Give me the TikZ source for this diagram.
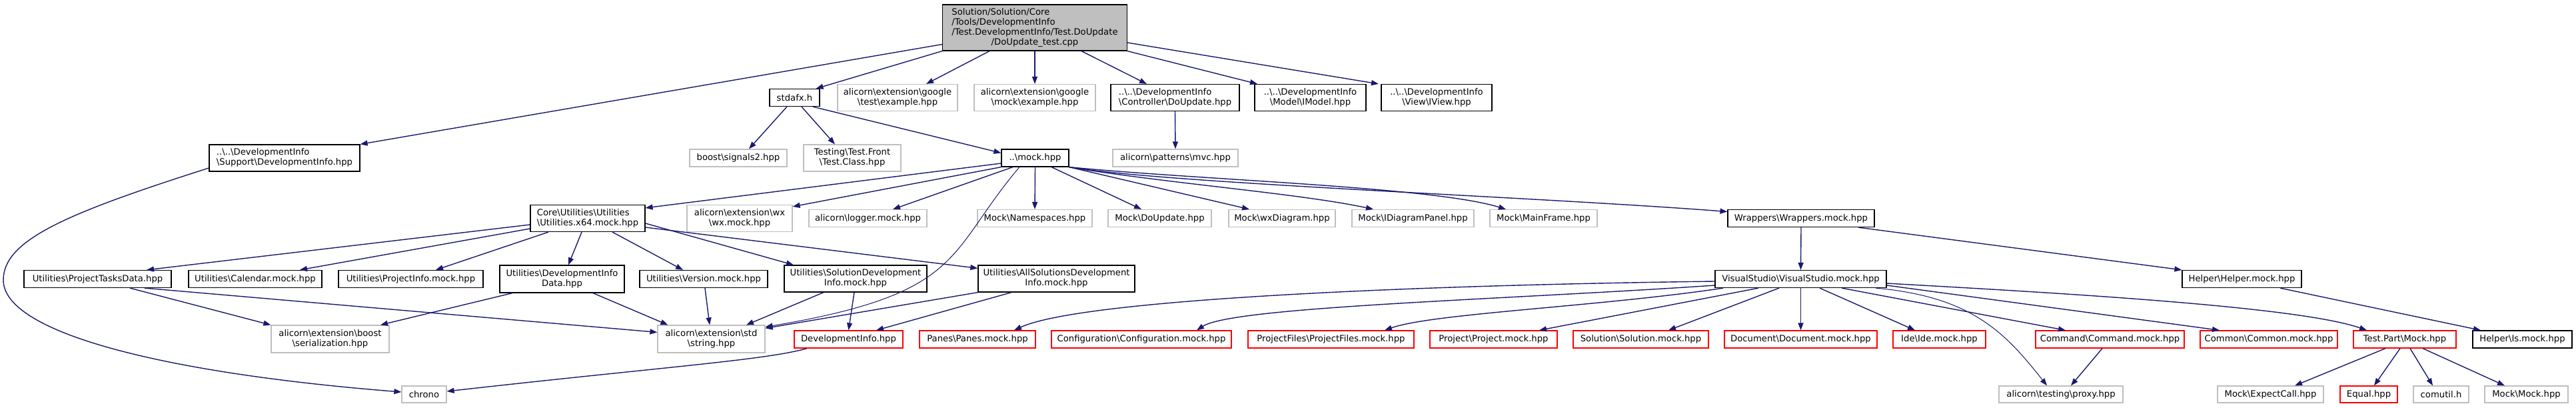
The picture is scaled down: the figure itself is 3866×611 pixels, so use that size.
\documentclass[tikz,border=0pt]{standalone}
\usepackage{fontspec}
\setmainfont{DejaVu Sans}
\usetikzlibrary{arrows.meta}
\definecolor{eblue}{HTML}{191970}
\definecolor{lgray}{HTML}{BFBFBF}
\newcommand\bs{\textbackslash}
\newcommand\lc[2]{\begin{tabular}{@{}l@{}}#1\\\multicolumn{1}{@{}c@{}}{#2}\end{tabular}}
\begin{document}
\begin{tikzpicture}[x=1pt,y=-1pt,
  nd/.style={draw,line width=1.2pt,inner sep=0pt,font=\fontsize{13.2}{15}\selectfont,anchor=center,fill=white},
  bk/.style={nd,draw=black},
  gr/.style={nd,draw=lgray},
  rd/.style={nd,draw=red},
  one/.style={minimum height=26pt},
  two/.style={minimum height=40pt},
  edg/.style={draw=eblue,line width=1.4pt,-{Triangle[length=11pt,width=8pt]}}]
\useasboundingbox (0,0) rectangle (3866,611);
% row 0
\node[bk,fill=lgray,minimum width=277pt,minimum height=69pt] (root) at (1553,41.5) {\begin{tabular}{@{}l@{}}Solution/Solution/Core\\/Tools/DevelopmentInfo\\/Test.DevelopmentInfo/Test.DoUpdate\\\multicolumn{1}{@{}c@{}}{/DoUpdate\_test.cpp}\end{tabular}};
% row 1
\node[bk,two,minimum width=226pt] (supp) at (427,237) {\lc{..\bs..\bs{}DevelopmentInfo}{\bs{}Support\bs{}DevelopmentInfo.hpp}};
\node[bk,one,minimum width=75pt] (stdafx) at (1192.5,146.5) {stdafx.h};
\node[gr,two,minimum width=180pt] (gtest) at (1347,146.5) {\lc{alicorn\bs{}extension\bs{}google}{\bs{}test\bs{}example.hpp}};
\node[gr,two,minimum width=182pt] (gmock) at (1553,146.5) {\lc{alicorn\bs{}extension\bs{}google}{\bs{}mock\bs{}example.hpp}};
\node[bk,two,minimum width=193pt] (doupc) at (1763.5,146.5) {\lc{..\bs..\bs{}DevelopmentInfo}{\bs{}Controller\bs{}DoUpdate.hpp}};
\node[bk,two,minimum width=167pt] (imodel) at (1966.5,146.5) {\lc{..\bs..\bs{}DevelopmentInfo}{\bs{}Model\bs{}IModel.hpp}};
\node[bk,two,minimum width=166pt] (iview) at (2156,146.5) {\lc{..\bs..\bs{}DevelopmentInfo}{\bs{}View\bs{}IView.hpp}};
% row 2
\node[gr,one,minimum width=146pt] (sig) at (1108,237) {boost\bs{}signals2.hpp};
\node[gr,two,minimum width=146pt] (tfront) at (1279,237) {\lc{Testing\bs{}Test.Front}{\bs{}Test.Class.hpp}};
\node[bk,one,minimum width=101pt] (mock) at (1553.5,237) {..\bs{}mock.hpp};
\node[gr,one,minimum width=188pt] (mvc) at (1764,237) {alicorn\bs{}patterns\bs{}mvc.hpp};
% row 3
\node[bk,two,minimum width=172pt] (core) at (882,327.5) {\lc{Core\bs{}Utilities\bs{}Utilities}{\bs{}Utilities.x64.mock.hpp}};
\node[gr,two,minimum width=158pt] (wx) at (1110,327.5) {\lc{alicorn\bs{}extension\bs{}wx}{\bs{}wx.mock.hpp}};
\node[gr,one,minimum width=177pt] (logger) at (1302.5,327.5) {alicorn\bs{}logger.mock.hpp};
\node[gr,one,minimum width=172pt] (nspace) at (1553,327.5) {Mock\bs{}Namespaces.hpp};
\node[gr,one,minimum width=155pt] (mdoup) at (1740.5,327.5) {Mock\bs{}DoUpdate.hpp};
\node[gr,one,minimum width=160pt] (wxdiag) at (1924,327.5) {Mock\bs{}wxDiagram.hpp};
\node[gr,one,minimum width=183pt] (idiag) at (2120.5,327.5) {Mock\bs{}IDiagramPanel.hpp};
\node[gr,one,minimum width=161pt] (mframe) at (2316.5,327.5) {Mock\bs{}MainFrame.hpp};
\node[bk,one,minimum width=220pt] (wrap) at (2703,327.5) {Wrappers\bs{}Wrappers.mock.hpp};
% row 4
\node[bk,one,minimum width=221pt] (ptd) at (146.5,418.5) {Utilities\bs{}ProjectTasksData.hpp};
\node[bk,one,minimum width=200pt] (cal) at (383,418.5) {Utilities\bs{}Calendar.mock.hpp};
\node[bk,one,minimum width=217pt] (pinfo) at (616.5,418.5) {Utilities\bs{}ProjectInfo.mock.hpp};
\node[bk,two,minimum width=187pt,minimum height=41pt] (did) at (843.5,418.5) {\begin{tabular}{@{}c@{}}Utilities\bs{}DevelopmentInfo\\Data.hpp\end{tabular}};
\node[bk,one,minimum width=192pt] (ver) at (1056,418.5) {Utilities\bs{}Version.mock.hpp};
\node[bk,two,minimum width=214pt] (soldev) at (1284,418) {\begin{tabular}{@{}c@{}}Utilities\bs{}SolutionDevelopment\\Info.mock.hpp\end{tabular}};
\node[bk,two,minimum width=235pt] (allsol) at (1585.5,418) {\begin{tabular}{@{}c@{}}Utilities\bs{}AllSolutionsDevelopment\\Info.mock.hpp\end{tabular}};
\node[bk,one,minimum width=257pt] (vs) at (2702.5,418.5) {VisualStudio\bs{}VisualStudio.mock.hpp};
\node[bk,one,minimum width=179pt] (helper) at (3364.5,418.5) {Helper\bs{}Helper.mock.hpp};
% row 5
\node[gr,two,minimum width=177pt,minimum height=41pt] (ser) at (495.5,508.5) {\lc{alicorn\bs{}extension\bs{}boost}{\bs{}serialization.hpp}};
\node[gr,two,minimum width=161pt,minimum height=41pt] (str) at (1067.5,508.5) {\lc{alicorn\bs{}extension\bs{}std}{\bs{}string.hpp}};
\node[rd,one,minimum width=163pt] (dihpp) at (1273.5,509) {DevelopmentInfo.hpp};
\node[rd,one,minimum width=174pt] (panes) at (1467,509) {Panes\bs{}Panes.mock.hpp};
\node[rd,one,minimum width=270pt] (conf) at (1713,509) {Configuration\bs{}Configuration.mock.hpp};
\node[rd,one,minimum width=249pt] (pfiles) at (1997.5,509) {ProjectFiles\bs{}ProjectFiles.mock.hpp};
\node[rd,one,minimum width=191pt] (proj) at (2241.5,509) {Project\bs{}Project.mock.hpp};
\node[rd,one,minimum width=203pt] (sol) at (2462.5,509) {Solution\bs{}Solution.mock.hpp};
\node[rd,one,minimum width=229pt] (doc) at (2702.5,509) {Document\bs{}Document.mock.hpp};
\node[rd,one,minimum width=139pt] (ide) at (2910.5,509) {Ide\bs{}Ide.mock.hpp};
\node[rd,one,minimum width=223pt] (cmd) at (3166.5,509) {Command\bs{}Command.mock.hpp};
\node[rd,one,minimum width=206pt] (common) at (3405,509) {Common\bs{}Common.mock.hpp};
\node[rd,one,minimum width=154pt] (tpart) at (3609,509) {Test.Part\bs{}Mock.hpp};
\node[bk,one,minimum width=149pt] (ismock) at (3785.5,509) {Helper\bs{}Is.mock.hpp};
% row 6
\node[gr,minimum height=25pt,minimum width=67pt] (chrono) at (636.5,591.5) {chrono};
\node[gr,minimum height=25pt,minimum width=186pt] (proxy) at (3093,591.5) {alicorn\bs{}testing\bs{}proxy.hpp};
\node[gr,minimum height=25pt,minimum width=159pt] (expc) at (3407.5,591.5) {Mock\bs{}ExpectCall.hpp};
\node[rd,minimum height=25pt,minimum width=86pt] (equal) at (3555,591.5) {Equal.hpp};
\node[gr,minimum height=25pt,minimum width=83pt] (comutil) at (3663.5,591.5) {comutil.h};
\node[gr,minimum height=25pt,minimum width=125pt] (mmock) at (3791.5,591.5) {Mock\bs{}Mock.hpp};
% edges from root
\draw[edg] ([yshift=-25pt]root.west) -- (supp.north east);
\draw[edg] (root.south west) -- ([xshift=-6pt]stdafx.north east);
\draw[edg] ([xshift=-68pt]root.south) -- ([xshift=43pt]gtest.north);
\draw[edg] (root.south) -- (gmock.north);
\draw[edg] ([xshift=70pt]root.south) -- ([xshift=-42.5pt]doupc.north);
\draw[edg] (root.south east) -- ([xshift=-79.5pt]imodel.north);
\draw[edg] ([yshift=-22.5pt]root.east) -- ([xshift=-87pt]iview.north);
% stdafx
\draw[edg] ([xshift=-11.5pt]stdafx.south) -- ([xshift=16pt]sig.north);
\draw[edg] ([xshift=10.5pt]stdafx.south) -- ([xshift=-26pt]tfront.north);
\draw[edg] ([xshift=27.5pt]stdafx.south) -- ([yshift=-6pt]mock.north west);
\draw[edg] (doupc.south) -- (mvc.north);
% support
\draw[edg] ([yshift=-15pt]supp.west) .. controls (100,320) and (5,360) .. (5,420) .. controls (5,500) and (250,560) .. ([yshift=3.5pt]chrono.west);
% mock.hpp
\draw[edg] ([yshift=-8pt]mock.west) -- ([yshift=-5pt]core.north east);
\draw[edg] (mock.south west) -- ([yshift=-3pt]wx.north east);
\draw[edg] ([xshift=-33.5pt]mock.south) -- ([xshift=37.5pt]logger.north);
\draw[edg] (mock.south) -- (nspace.north);
\draw[edg] ([xshift=24.5pt]mock.south) -- ([xshift=-27.5pt]mdoup.north);
\draw[edg] (mock.south east) -- ([xshift=-49pt]wxdiag.north);
\draw[edg] (mock.south east) .. controls (1750,275) and (1950,290) .. ([xshift=-59.5pt]idiag.north);
\draw[edg] (mock.south east) .. controls (1800,270) and (2150,280) .. ([xshift=-56.5pt]mframe.north);
\draw[edg] (mock.south east) .. controls (1750,275) and (2300,295) .. ([yshift=10pt]wrap.west);
\draw[edg,line width=1pt] ([xshift=-23.5pt]mock.south) .. controls (1420,380) and (1450,440) .. ([yshift=-3pt]str.north east);
% core
\draw[edg] ([yshift=-9.5pt]core.west) -- ([xshift=73.5pt]ptd.north);
\draw[edg] ([yshift=-15.5pt]core.west) -- ([xshift=67pt]cal.north);
\draw[edg] ([xshift=-59pt]core.south) -- ([xshift=37.5pt]pinfo.north);
\draw[edg] ([xshift=-9pt]core.south) -- ([xshift=9.5pt]did.north);
\draw[edg] ([xshift=37pt]core.south) -- ([xshift=-31pt]ver.north);
\draw[edg] ([yshift=-7.5pt]core.east) -- ([xshift=-93pt]soldev.north);
\draw[edg] ([yshift=-13.5pt]core.east) -- ([yshift=-5pt]allsol.north west);
% row 4 lower edges
\draw[edg] ([xshift=48.5pt]ptd.south) -- (ser.north west);
\draw[edg] ([xshift=70.5pt]ptd.south) -- ([yshift=-11pt]str.north west);
\draw[edg] ([xshift=-74.5pt]did.south) -- ([xshift=75.5pt]ser.north);
\draw[edg] ([xshift=46.5pt]did.south) -- ([xshift=16pt]str.north west);
\draw[edg] ([xshift=2pt]ver.south) -- ([xshift=-2.5pt]str.north);
\draw[edg] ([xshift=-48pt]soldev.south) -- ([xshift=52.5pt]str.north);
\draw[edg] ([xshift=-2pt]soldev.south) -- (dihpp.north);
\draw[edg] (allsol.south west) -- ([yshift=-5pt]str.north east);
\draw[edg] ([xshift=-67.5pt]allsol.south) -- ([xshift=41.5pt]dihpp.north);
\draw[edg] ([xshift=-62.5pt]dihpp.south) .. controls (1150,540) and (1000,550) .. ([yshift=4.5pt]chrono.east);
% wrappers
\draw[edg] (wrap.south) -- (vs.north);
\draw[edg] ([xshift=86pt]wrap.south) -- (helper.north west);
\draw[edg] ([xshift=57.5pt]helper.south) -- ([xshift=-62.5pt]ismock.north);
% visual studio
\draw[edg] ([yshift=-3.5pt]vs.west) .. controls (2100,428) and (1620,450) .. ([xshift=55pt]panes.north);
\draw[edg] ([yshift=-9.5pt]vs.west) .. controls (2250,450) and (1850,460) .. ([xshift=83pt]conf.north);
\draw[edg] ([xshift=-116.5pt]vs.south) .. controls (2400,460) and (2150,470) .. ([xshift=80.5pt]pfiles.north);
\draw[edg] ([xshift=-63.5pt]vs.south) -- ([xshift=68.5pt]proj.north);
\draw[edg] ([xshift=-32.5pt]vs.south) -- ([xshift=41.5pt]sol.north);
\draw[edg] (vs.south) -- (doc.north);
\draw[edg] ([xshift=28.5pt]vs.south) -- ([xshift=-36.5pt]ide.north);
\draw[edg] ([xshift=61.5pt]vs.south) -- ([xshift=-66.5pt]cmd.north);
\draw[edg,line width=1pt] ([xshift=112.5pt]vs.south) .. controls (2960,445) and (3010,500) .. ([xshift=-21pt]proxy.north);
\draw[edg] ([yshift=-9.5pt]vs.east) -- ([xshift=-74pt]common.north);
\draw[edg] ([yshift=-6.5pt]vs.east) .. controls (3100,440) and (3450,460) .. ([xshift=-57pt]tpart.north);
% bottom
\draw[edg] ([xshift=-11.5pt]cmd.south) -- ([xshift=15pt]proxy.north);
\draw[edg] ([xshift=-29pt]tpart.south) -- ([xshift=36.5pt]expc.north);
\draw[edg] ([xshift=-7pt]tpart.south) -- ([xshift=8pt]equal.north);
\draw[edg] ([xshift=8pt]tpart.south) -- ([xshift=-12.5pt]comutil.north);
\draw[edg] ([xshift=27pt]tpart.south) -- ([xshift=-32.5pt]mmock.north);
\end{tikzpicture}
\end{document}
